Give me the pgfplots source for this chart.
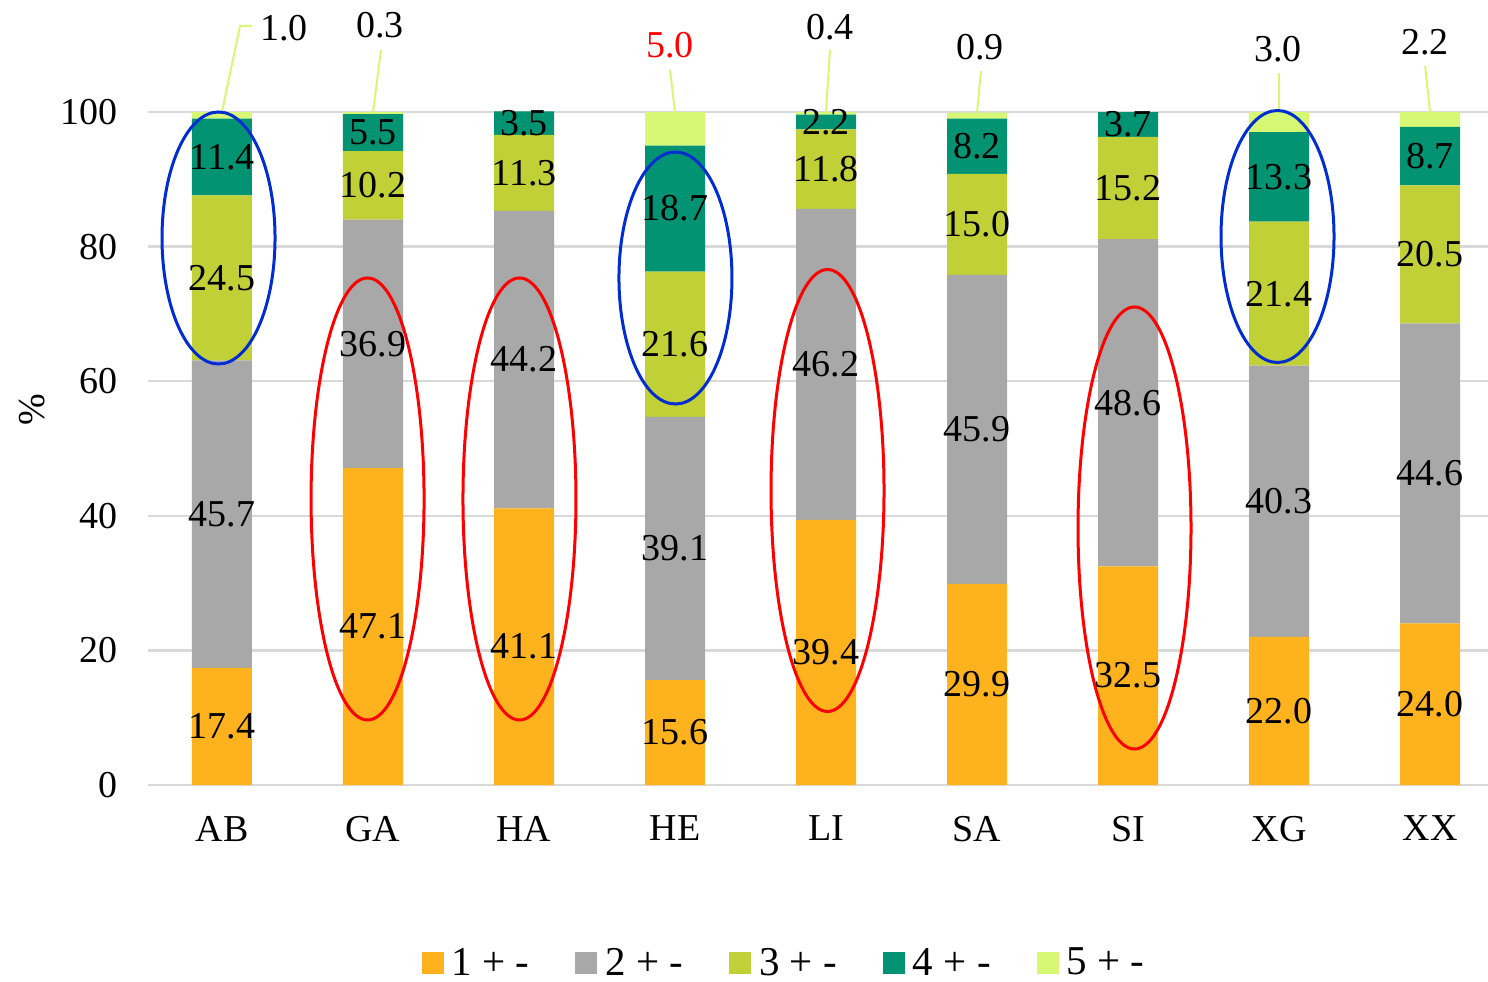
\documentclass[border=0pt]{standalone}
\usepackage{pgfplots}
\pgfplotsset{compat=1.18}
\usepackage{pgfplotstable}
\usepackage{fontspec}
\setmainfont{Liberation Serif}

\definecolor{c1}{RGB}{254,178,29}
\definecolor{c2}{RGB}{168,168,168}
\definecolor{c3}{RGB}{194,208,56}
\definecolor{c4}{RGB}{2,148,114}
\definecolor{c5}{RGB}{214,248,116}
\definecolor{gridgray}{RGB}{217,217,217}
\definecolor{ringblue}{RGB}{0,45,210}

% share of answers per class (1 to 5) for each site, in %
\pgfplotstableread{
x s1 s2 s3 s4 s5
0 17.4 45.7 24.5 11.4 1.0
1 47.1 36.9 10.2 5.5 0.3
2 41.1 44.2 11.3 3.5 0.0
3 15.6 39.1 21.6 18.7 5.0
4 39.4 46.2 11.8 2.2 0.4
5 29.9 45.9 15.0 8.2 0.9
6 32.5 48.6 15.2 3.7 0.0
7 22.0 40.3 21.4 13.3 3.0
8 24.0 44.6 20.5 8.7 2.2
}\datatable

\pgfplotsset{
  /pgf/number format/assume math mode=true,
  % value label in the middle of its own segment
  segment labels/.style={
    nodes near coords={\pgfmathprintnumber[fixed,zerofill,precision=1]{\segval}},
    visualization depends on={rawy \as \segval},
    every node near coord/.style={anchor=center, inner sep=0pt, text=black},
  },
}

\begin{document}
\begin{tikzpicture}[font=\fontsize{19pt}{22pt}\selectfont]
\useasboundingbox (0,0) rectangle (744pt,490.5pt);
\begin{axis}[
  at={(74pt,98pt)}, anchor=south west,
  scale only axis, width=670pt, height=336.5pt,
  ybar stacked, bar width=30pt,
  xmin=-0.49, xmax=8.384, ymin=0, ymax=100,
  xtick={0,...,8},
  xticklabels={AB,GA,HA,HE,LI,SA,SI,XG,XX},
  ytick={0,20,...,100},
  ymajorgrids, grid style={gridgray, line width=1.2pt},
  axis line style={draw=none},
  tick style={draw=none},
  yticklabel style={xshift=-11.5pt},
  xticklabel style={yshift=-12pt},
  clip=false,
  legend columns=5,
  legend style={at={(0.4754,-0.2645)}, anchor=center, draw=none,
    font=\fontsize{20.5pt}{24pt}\selectfont,
    /tikz/every even column/.append style={column sep=21pt}},
  legend image code/.code={\fill[#1] (0pt,-5.5pt) rectangle (11pt,5.5pt); \path (13pt,0pt);},
]
\addplot[fill=c1, draw=none, segment labels] table[x=x, y=s1] {\datatable};
\addplot[fill=c2, draw=none, segment labels] table[x=x, y=s2] {\datatable};
\addplot[fill=c3, draw=none, segment labels] table[x=x, y=s3] {\datatable};
\addplot[fill=c4, draw=none, segment labels] table[x=x, y=s4] {\datatable};
\addplot[fill=c5, draw=none] table[x=x, y=s5] {\datatable};
\legend{1 + -, 2 + -, 3 + -, 4 + -, 5 + -}

% class 5 values, written above the bars with leader lines
\draw[c5, line width=1pt] (axis cs:0,100) -- (axis cs:0.119,112.78) -- (axis cs:0.199,112.78);
\node at (axis cs:0.411,112.48) {1.0};
\draw[c5, line width=1pt] (axis cs:1,100) -- (axis cs:1.053,109.21);
\node at (axis cs:1.046,112.93) {0.3};
\draw[c5, line width=1pt] (axis cs:3,100) -- (axis cs:2.967,106.24);
\node[text=red] at (axis cs:2.967,109.96) {5.0};
\draw[c5, line width=1pt] (axis cs:4,100) -- (axis cs:4.026,109.2);
\node at (axis cs:4.026,112.63) {0.4};
\draw[c5, line width=1pt] (axis cs:5,99.9) -- (axis cs:5.026,106.09);
\node at (axis cs:5.020,109.66) {0.9};
\draw[c5, line width=1pt] (axis cs:7,100) -- (axis cs:7,105.79);
\node at (axis cs:6.993,109.36) {3.0};
\draw[c5, line width=1pt] (axis cs:8,100) -- (axis cs:7.967,106.84);
\node at (axis cs:7.967,110.4) {2.2};

% centres of the highlighted groups
\coordinate (ringAB) at (axis cs:-0.023,81.28);
\coordinate (ringHE) at (axis cs:3.003,75.33);
\coordinate (ringXG) at (axis cs:6.990,81.50);
\coordinate (ringGA) at (axis cs:0.964,42.50);
\coordinate (ringHA) at (axis cs:1.970,42.50);
\coordinate (ringLI) at (axis cs:4.010,43.76);
\coordinate (ringSI) at (axis cs:6.043,38.19);
\end{axis}

% rings drawn over the finished bars
\foreach \c in {ringAB,ringHE,ringXG}
  \draw[ringblue, line width=1.5pt] (\c) ellipse [x radius=28.25pt, y radius=63pt];
\foreach \c in {ringGA,ringHA,ringLI,ringSI}
  \draw[red, line width=1.5pt] (\c) ellipse [x radius=28.25pt, y radius=110.5pt];

\node[rotate=90] at (16pt,285.5pt) {\%};
\end{tikzpicture}
\end{document}
